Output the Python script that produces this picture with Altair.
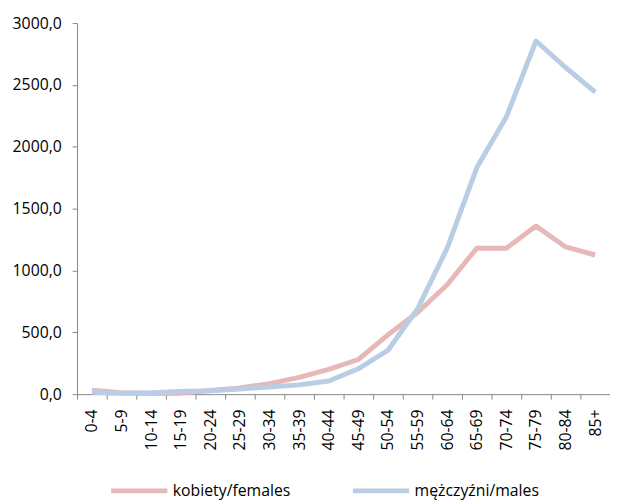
import altair as alt
import pandas as pd

age_groups = ["0-4", "5-9", "10-14", "15-19", "20-24", "25-29", "30-34", "35-39",
              "40-44", "45-49", "50-54", "55-59", "60-64", "65-69", "70-74",
              "75-79", "80-84", "85+"]
females = [32, 12, 5, 8, 30, 50, 85, 135, 200, 280, 480, 660, 885, 1180, 1180, 1360, 1190, 1125]
males = [15, 8, 12, 22, 28, 42, 58, 75, 106, 205, 355, 690, 1180, 1830, 2242, 2855, 2641, 2441]
series_names = ["kobiety/females", "mężczyźni/males"]
series_colors = ["#E6B9B8", "#B9CDE5"]

rows = []
for name, vals in zip(series_names, [females, males]):
    for i, (g, v) in enumerate(zip(age_groups, vals)):
        rows.append({"age": g, "value": v, "series": name, "order": i})
df = pd.DataFrame(rows)

FONT = "Open Sans"

chart = alt.Chart(df).mark_line(strokeWidth=5, strokeJoin="round").encode(
    x=alt.X("age:N", sort=age_groups, bandPosition=0.5,
            scale=alt.Scale(type="band", paddingInner=0, paddingOuter=0),
            axis=alt.Axis(title=None, labelAngle=270, tickBand="extent", tickSize=5,
                          labelPadding=10, domainColor="#868686", tickColor="#868686",
                          labelFont=FONT, labelFontSize=16, labelColor="#000000")),
    y=alt.Y("value:Q", scale=alt.Scale(domain=[0, 3000], nice=False),
            axis=alt.Axis(title=None, values=[0, 500, 1000, 1500, 2000, 2500, 3000],
                          labelExpr="replace(format(datum.value, '.1f'), '.', ',')",
                          grid=False, tickSize=5, labelPadding=11,
                          domainColor="#868686", tickColor="#868686",
                          labelFont=FONT, labelFontSize=16, labelColor="#000000")),
    color=alt.Color("series:N", sort=series_names,
                    scale=alt.Scale(domain=series_names, range=series_colors),
                    legend=alt.Legend(title=None, orient="none", legendX=32, legendY=443,
                                      direction="horizontal", symbolType="stroke",
                                      symbolSize=3249, symbolStrokeWidth=5,
                                      labelFont=FONT, labelFontSize=16, labelColor="#000000",
                                      columnPadding=52, labelOffset=3, padding=0)),
    order=alt.Order("order:Q"),
).properties(
    width=540, height=376,
    autosize=alt.AutoSizeParams(type="none"),
    padding={"left": 70, "top": 12, "right": 0, "bottom": 106},
).configure_view(stroke=None)

chart.save("out.html", embed_options={"renderer": "svg", "actions": False})
